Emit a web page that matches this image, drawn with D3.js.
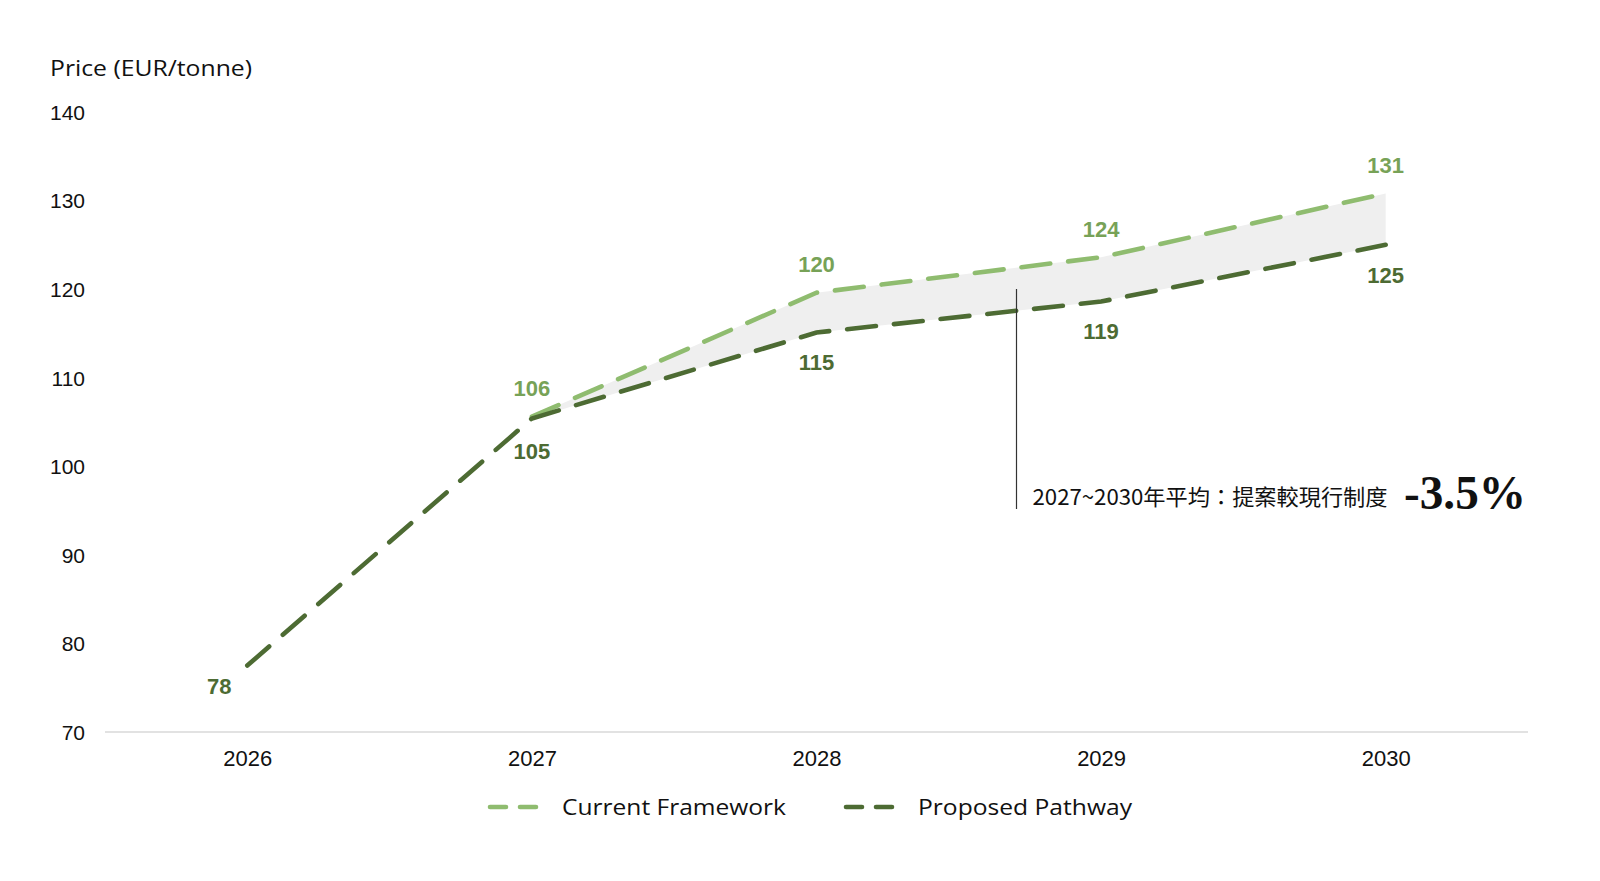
<!DOCTYPE html>
<html>
<head>
<meta charset="utf-8">
<script src="https://cdn.jsdelivr.net/npm/d3@7"></script>
<style>
  html, body { margin: 0; padding: 0; background: #ffffff; }
  svg { display: block; }
</style>
</head>
<body>
<svg id="chart" width="1600" height="881"></svg>
<script>
const years = ["2026", "2027", "2028", "2029", "2030"];
const currentFramework = [null, 105.6, 119.6, 123.6, 130.8];
const proposedPathway = [77.5, 105.4, 115.1, 118.6, 125.0];
const yTicks = [70, 80, 90, 100, 110, 120, 130, 140];
const seriesNames = ["Current Framework", "Proposed Pathway"];
const yTitle = "Price (EUR/tonne)";
const annotationText = "2027~2030年平均：提案較現行制度";
const annotationValue = "-3.5%";
const annotationYear = 2028.7;

(function () {
const svg = d3.select("#chart");
const mLeft = 105, mRight = 1528, mTop = 112, mBottom = 732;

const x = d3.scalePoint().domain(years).range([mLeft, mRight]).padding(0.5);
const y = d3.scaleLinear().domain([70, 140]).range([mBottom, mTop]);

const cLine = "#8fbc6f", cLabel = "#77a257";
const pLine = "#4d6b33", pLabel = "#4d6b33";
const fontSans = "'Liberation Sans', Arial, Helvetica, sans-serif";
const fontTitle = "'Open Sans', 'Noto Sans', sans-serif";

// y axis title
svg.append("text").attr("x", 50).attr("y", 68).attr("dy", "0.35em")
  .attr("font-family", fontTitle).attr("font-size", 22).attr("font-weight", 500)
  .attr("textLength", 202).attr("lengthAdjust", "spacingAndGlyphs")
  .attr("fill", "#111").text(yTitle);

// y axis
const yAxis = d3.axisLeft(y).tickValues(yTicks).tickSize(0).tickPadding(0);
const gy = svg.append("g").attr("transform", `translate(85,0)`).call(yAxis);
gy.select(".domain").remove();
gy.selectAll("text").attr("font-family", fontSans).attr("font-size", 21)
  .attr("fill", "#111").attr("dy", "0.35em");

// x axis
const xAxis = d3.axisBottom(x).tickSize(0).tickPadding(0);
const gx = svg.append("g").attr("transform", `translate(0,${mBottom})`).call(xAxis);
gx.select(".domain").attr("stroke", "#d9d9d9").attr("stroke-width", 1.5)
  .attr("d", `M${mLeft},0H${mRight}`);
gx.selectAll("text").attr("font-family", fontSans).attr("font-size", 22)
  .attr("fill", "#111").attr("y", 26).attr("dy", "0.35em");

// band area between series
const bandData = years.map((yr, i) => ({ yr, c: currentFramework[i], p: proposedPathway[i] }))
  .filter(d => d.c != null);
const area = d3.area().x(d => x(d.yr)).y0(d => y(d.p)).y1(d => y(d.c));
svg.append("path").datum(bandData).attr("d", area).attr("fill", "#efefef");

// lines
const line = d3.line().defined(d => d.v != null).x(d => x(d.yr)).y(d => y(d.v));
const cData = years.map((yr, i) => ({ yr, v: currentFramework[i] }));
const pData = years.map((yr, i) => ({ yr, v: proposedPathway[i] }));

svg.append("path").datum(cData).attr("d", line)
  .attr("fill", "none").attr("stroke", cLine).attr("stroke-width", 4.6)
  .attr("stroke-linecap", "round").attr("stroke-dasharray", "29,18");
svg.append("path").datum(pData).attr("d", line)
  .attr("fill", "none").attr("stroke", pLine).attr("stroke-width", 4.6)
  .attr("stroke-linecap", "round").attr("stroke-dasharray", "29,18");

// data labels
const fmt = d3.format(".0f");
svg.append("g").selectAll("text").data(cData.filter(d => d.v != null)).join("text")
  .attr("x", d => x(d.yr)).attr("y", d => y(d.v) - 28).attr("dy", "0.35em")
  .attr("text-anchor", "middle").attr("font-family", fontSans).attr("font-weight", "bold")
  .attr("font-size", 22).attr("fill", cLabel).text(d => fmt(d.v));
svg.append("g").selectAll("text").data(pData).join("text")
  .attr("x", (d, i) => x(d.yr) - (i === 0 ? 28 : 0))
  .attr("y", (d, i) => y(d.v) + (i === 0 ? 21 : (i === 1 ? 33 : 30))).attr("dy", "0.35em")
  .attr("text-anchor", "middle").attr("font-family", fontSans).attr("font-weight", "bold")
  .attr("font-size", 22).attr("fill", pLabel).text(d => fmt(d.v));

// annotation
const xa = d3.scaleLinear().domain([2026, 2030]).range([x("2026"), x("2030")]);
const ax = Math.round(xa(annotationYear)) + 0.5;
svg.append("line").attr("x1", ax).attr("x2", ax).attr("y1", 289).attr("y2", 509)
  .attr("stroke", "#333").attr("stroke-width", 1.2);
svg.append("text").attr("x", ax + 16).attr("y", 505)
  .attr("font-family", "'Noto Sans CJK TC', 'Noto Sans', sans-serif").attr("font-size", 22)
  .attr("textLength", 355).attr("lengthAdjust", "spacingAndGlyphs")
  .attr("fill", "#111").text(annotationText);
svg.append("text").attr("x", 1404).attr("y", 509)
  .attr("font-family", "'Liberation Serif', 'DejaVu Serif', serif").attr("font-size", 48)
  .attr("textLength", 122).attr("lengthAdjust", "spacingAndGlyphs")
  .attr("font-weight", "bold").attr("fill", "#111").text(annotationValue);

// legend
const legend = svg.append("g");
const legItems = [
  { name: seriesNames[0], color: cLine, x: 490, w: 224 },
  { name: seriesNames[1], color: pLine, x: 846, w: 214 }
];
const ly = 807;
legItems.forEach(it => {
  legend.append("line").attr("x1", it.x).attr("x2", it.x + 52).attr("y1", ly).attr("y2", ly)
    .attr("stroke", it.color).attr("stroke-width", 4.6).attr("stroke-linecap", "round")
    .attr("stroke-dasharray", "16,14");
  legend.append("text").attr("x", it.x + 72).attr("y", ly).attr("dy", "0.35em")
    .attr("font-family", fontTitle).attr("font-size", 22).attr("font-weight", 500)
    .attr("textLength", it.w).attr("lengthAdjust", "spacingAndGlyphs")
    .attr("fill", "#111").text(it.name);
});
})();
</script>
</body>
</html>
